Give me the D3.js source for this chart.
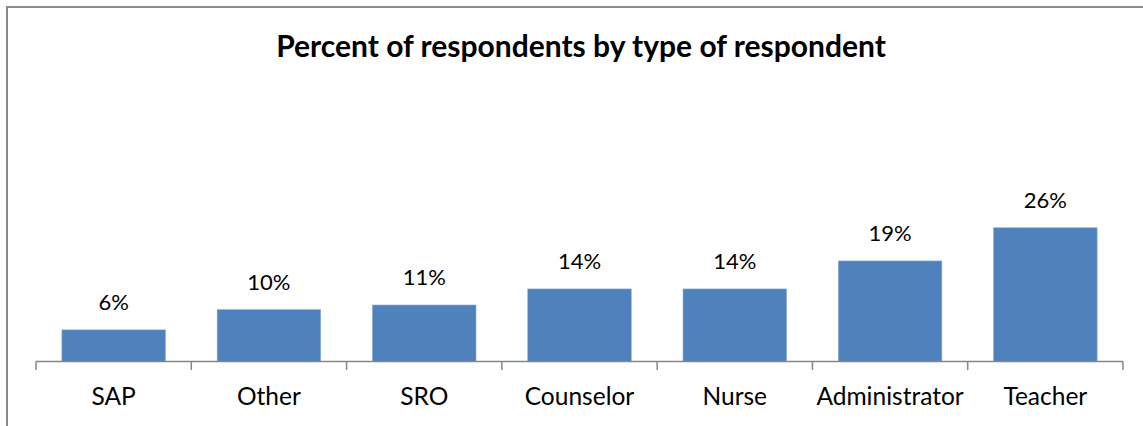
<!DOCTYPE html>
<html>
<head>
<meta charset="utf-8">
<script src="https://cdnjs.cloudflare.com/ajax/libs/d3/7.8.5/d3.min.js"></script>
<style>
  body { margin: 0; background: #fff; }
  text { font-family: Lato, "Open Sans", sans-serif; fill: #000; }
  .title { font-weight: bold; font-size: 30px; }
  .label { font-size: 22px; }
  .cat { font-size: 24.5px; }
</style>
</head>
<body>
<div id="chart"></div>
<script>
  var width = 1143;
  var height = 426;

  // respondent types and share (labels show the rounded value)
  var categories = ['SAP', 'Other', 'SRO', 'Counselor', 'Nurse', 'Administrator', 'Teacher'];
  var values = [0.061, 0.10, 0.109, 0.14, 0.14, 0.194, 0.258];
  var labels = ['6%', '10%', '11%', '14%', '14%', '19%', '26%'];

  var svg = d3.select('#chart')
    .append('svg')
    .attr('width', width)
    .attr('height', height);

  // chart frame (runs off the right and bottom of the picture)
  svg.append('rect')
    .attr('x', 7)
    .attr('y', 7)
    .attr('width', width + 20)
    .attr('height', height + 20)
    .attr('fill', 'none')
    .attr('stroke', '#8a8a8a')
    .attr('stroke-width', 2);

  svg.append('text')
    .attr('class', 'title')
    .attr('x', 581)
    .attr('y', 57)
    .attr('text-anchor', 'middle')
    .text('Percent of respondents by type of respondent');

  var x = d3.scaleBand()
    .domain(categories)
    .range([36, 1123])
    .paddingInner(1 / 3)
    .paddingOuter(1 / 6);

  var y = d3.scaleLinear()
    .domain([0, 0.30])
    .range([361.5, 206]);

  svg.selectAll('.bar')
    .data(values)
    .enter()
    .append('rect')
    .attr('class', 'bar')
    .attr('x', function(d, i) { return x(categories[i]); })
    .attr('y', function(d) { return y(d); })
    .attr('width', x.bandwidth())
    .attr('height', function(d) { return y(0) - y(d); })
    .attr('fill', '#4f81bd')
    .attr('stroke', '#8eacd4')
    .attr('stroke-width', 0.6);

  svg.selectAll('.label')
    .data(values)
    .enter()
    .append('text')
    .attr('class', 'label')
    .attr('x', function(d, i) { return x(categories[i]) + x.bandwidth() / 2; })
    .attr('y', function(d) { return y(d) - 20; })
    .attr('text-anchor', 'middle')
    .text(function(d, i) { return labels[i]; });

  // category axis: ticks sit on the band boundaries
  var axisG = svg.append('g');
  var step = x.step();
  var bounds = d3.range(categories.length + 1).map(function(i) { return 36 + i * step; });

  axisG.append('line')
    .attr('x1', 36)
    .attr('x2', 1123)
    .attr('y1', 361.5)
    .attr('y2', 361.5)
    .attr('stroke', '#868686')
    .attr('stroke-width', 1.5);

  axisG.selectAll('.tick')
    .data(bounds)
    .enter()
    .append('line')
    .attr('x1', function(d) { return d; })
    .attr('x2', function(d) { return d; })
    .attr('y1', 361.5)
    .attr('y2', 370)
    .attr('stroke', '#868686')
    .attr('stroke-width', 1.5);

  axisG.selectAll('.cat')
    .data(categories)
    .enter()
    .append('text')
    .attr('class', 'cat')
    .attr('x', function(d) { return x(d) + x.bandwidth() / 2; })
    .attr('y', 405)
    .attr('text-anchor', 'middle')
    .text(function(d) { return d; });
</script>
</body>
</html>
